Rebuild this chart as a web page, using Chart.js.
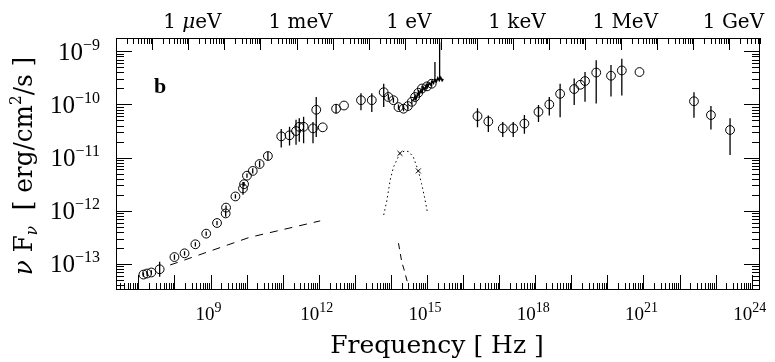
<!DOCTYPE html>
<html>
<head>
<meta charset="utf-8">
<script src="https://cdn.jsdelivr.net/npm/chart.js@4/dist/chart.umd.min.js"></script>
<style>
  html, body { margin: 0; padding: 0; background: #fff; }
  canvas { display: block; }
</style>
</head>
<body>
<canvas id="sed" width="775" height="362"></canvas>
<script>
"use strict";

// observed points: log10 frequency [Hz], log10 nuFnu [erg/cm2/s], error below / above (dex)
var obsLogNu   = [7.14, 7.24, 7.36, 7.59, 8.00, 8.28, 8.58, 8.88, 9.18, 9.42, 9.43, 9.69, 9.90, 9.93, 10.01, 10.17, 10.36, 10.59,
                  10.96, 11.19, 11.37, 11.46, 11.58, 11.84, 11.93, 12.11, 12.48, 12.70, 13.17, 13.47, 13.80,
                  13.93, 14.07, 14.21, 14.35, 14.47, 14.58, 14.67, 14.76, 14.86, 15.00, 15.13,
                  16.40, 16.70, 17.10, 17.39, 17.70, 18.09, 18.39, 18.69, 19.08, 19.25, 19.38, 19.69, 20.10, 20.40, 20.89,
                  22.40, 22.87, 23.40];
var obsLogFlux = [-13.20, -13.18, -13.16, -13.10, -12.87, -12.80, -12.63, -12.43, -12.23, -12.05, -11.94, -11.73, -11.58, -11.50, -11.34, -11.25, -11.12, -10.97,
                  -10.60, -10.58, -10.50, -10.42, -10.42, -10.45, -10.10, -10.43, -10.08, -10.02, -9.92, -9.92, -9.77,
                  -9.86, -9.92, -10.05, -10.08, -10.03, -9.95, -9.86, -9.78, -9.70, -9.66, -9.61,
                  -10.22, -10.32, -10.45, -10.45, -10.36, -10.14, -10.00, -9.80, -9.71, -9.63, -9.56, -9.40, -9.46, -9.36, -9.39,
                  -9.94, -10.20, -10.48];
var obsErrLo   = [0.04, 0.04, 0.04, 0.14, 0.05, 0.04, 0.04, 0.04, 0.04, 0.06, 0.04, 0.04, 0.12, 0.04, 0.04, 0.05, 0.06, 0.08,
                  0.21, 0.19, 0.26, 0.28, 0.31, 0.28, 0.51, 0, 0.09, 0, 0.19, 0.22, 0.28,
                  0.05, 0.05, 0.05, 0.05, 0.05, 0.05, 0.05, 0.05, 0.05, 0.05, 0.05,
                  0.21, 0.20, 0.16, 0.16, 0.19, 0.19, 0.21, 0.44, 0.30, 0, 0.39, 0.58, 0.39, 0.47, 0,
                  0.31, 0.27, 0.47];
var obsErrHi   = [0.04, 0.04, 0.04, 0.14, 0.05, 0.04, 0.04, 0.04, 0.04, 0.06, 0.04, 0.04, 0.12, 0.04, 0.04, 0.05, 0.06, 0.08,
                  0.14, 0.16, 0.21, 0.16, 0.19, 0.12, 0.24, 0, 0.09, 0, 0.13, 0.13, 0.16,
                  0.05, 0.05, 0.05, 0.05, 0.05, 0.05, 0.05, 0.05, 0.05, 0.05, 0.05,
                  0.15, 0.11, 0.12, 0.12, 0.16, 0.13, 0.14, 0.19, 0.20, 0, 0.17, 0.23, 0.20, 0.22, 0,
                  0.17, 0.17, 0.22];

// optical/UV spectrum (jagged line) and its spikes
var specLogNu   = [14.62, 14.66, 14.70, 14.74, 14.78, 14.82, 14.86, 14.90, 14.94, 14.98, 15.02, 15.06, 15.10, 15.14, 15.18, 15.22, 15.26, 15.30, 15.34, 15.38, 15.42, 15.45];
var specLogFlux = [-9.93, -9.86, -9.89, -9.80, -9.82, -9.74, -9.77, -9.68, -9.72, -9.63, -9.67, -9.60, -9.63, -9.56, -9.60, -9.52, -9.57, -9.50, -9.55, -9.49, -9.55, -9.52];
var spikeLogNu  = [15.22, 15.35];
var spikeLogLo  = [-9.50, -9.52];
var spikeLogHi  = [-9.20, -8.83];

// thermal bump (dotted) with two marked points
var thermLogNu   = [13.80, 13.89, 13.98, 14.07, 14.16, 14.25, 14.39, 14.50, 14.62, 14.76, 14.85, 14.93, 15.01];
var thermLogFlux = [-12.08, -11.80, -11.42, -11.18, -11.05, -10.92, -10.87, -10.89, -10.99, -11.25, -11.49, -11.74, -12.02];
var crossLogNu   = [14.25, 14.76];
var crossLogFlux = [-10.92, -11.25];

// dashed components
var synchLogNu   = [7.88, 10.08, 12.04];
var synchLogFlux = [-13.02, -12.50, -12.19];
var steepLogNu   = [14.21, 14.30, 14.37, 14.49];
var steepLogFlux = [-12.61, -12.96, -13.12, -13.43];

// axes
var xLogMin = 6.38, xLogMax = 24.23;
var yLogMin = -13.49, yLogMax = -8.75;
var xTickExp = [9, 12, 15, 18, 21, 24];
var yTickExp = [-9, -10, -11, -12, -13];
var energyLabels = ["\u03bceV", "meV", "eV", "keV", "MeV", "GeV"];
var energyValues = [1e-6, 1e-3, 1, 1e3, 1e6, 1e9];
var HZ_PER_EV = 2.418e14;

var SERIF = "'Liberation Serif', 'DejaVu Serif', serif";
var WIDE = "'DejaVu Serif', serif";

function p10(v) { return Math.pow(10, v); }
function pts(xs, ys) { return xs.map(function(x, i) { return { x: p10(x), y: p10(ys[i]) }; }); }

var barPts = [];
obsLogNu.forEach(function(n, i) {
  if (!(obsErrLo[i] || obsErrHi[i])) return;
  var x = p10(n);
  barPts.push({ x: x, y: p10(obsLogFlux[i] - obsErrLo[i]) }, { x: x, y: p10(obsLogFlux[i] + obsErrHi[i]) }, { x: x, y: null });
});
spikeLogNu.forEach(function(n, i) {
  var x = p10(n);
  barPts.push({ x: x, y: p10(spikeLogLo[i]) }, { x: x, y: p10(spikeLogHi[i]) }, { x: x, y: null });
});

function logTicks(min, max, unit) {
  var out = [];
  var lo = Math.floor(Math.log10(min / unit)) - 1, hi = Math.ceil(Math.log10(max / unit)) + 1;
  for (var d = lo; d <= hi; d++) {
    for (var m = 1; m < 10; m++) {
      var v = m * Math.pow(10, d) * unit;
      if (v >= min && v <= max) out.push({ v: v, major: m === 1 });
    }
  }
  return out;
}

// text runs [text, font, dy] placed centred ("center") or ending ("right") at x; sx squeezes along the text
function drawRuns(ctx, runs, x, y, align, sx) {
  sx = sx || 1;
  var w = 0;
  runs.forEach(function(r) { ctx.font = r[1]; w += ctx.measureText(r[0]).width; });
  ctx.save();
  ctx.translate(x, y);
  ctx.scale(sx, 1);
  var cx = align === "right" ? -w : -w / 2;
  ctx.textAlign = "left";
  runs.forEach(function(r) {
    ctx.font = r[1];
    ctx.fillText(r[0], cx, r[2] || 0);
    cx += ctx.measureText(r[0]).width;
  });
  ctx.restore();
}

var framePlugin = {
  id: "frame",
  afterDraw: function(chart) {
    var ctx = chart.ctx, a = chart.chartArea, xs = chart.scales.x, ys = chart.scales.y;
    ctx.save();
    ctx.strokeStyle = "#000";
    ctx.fillStyle = "#000";
    ctx.lineWidth = 1;
    ctx.strokeRect(a.left + 0.5, a.top + 0.5, a.right - a.left - 1, a.bottom - a.top - 1);

    ctx.beginPath();
    // bottom: frequency ticks
    logTicks(xs.min, xs.max, 1).forEach(function(t) {
      var px = Math.round(xs.getPixelForValue(t.v)) + 0.5;
      ctx.moveTo(px, a.bottom); ctx.lineTo(px, a.bottom - (t.major ? 15 : 7));
    });
    // top: energy ticks
    logTicks(xs.min, xs.max, HZ_PER_EV).forEach(function(t) {
      var px = Math.round(xs.getPixelForValue(t.v)) + 0.5;
      ctx.moveTo(px, a.top); ctx.lineTo(px, a.top + (t.major ? 12 : 6));
    });
    // left and right: flux ticks
    logTicks(ys.min, ys.max, 1).forEach(function(t) {
      var py = Math.round(ys.getPixelForValue(t.v)) + 0.5;
      var len = t.major ? 16 : 8;
      ctx.moveTo(a.left, py); ctx.lineTo(a.left + len, py);
      ctx.moveTo(a.right, py); ctx.lineTo(a.right - len, py);
    });
    ctx.stroke();

    ctx.textBaseline = "alphabetic";
    // bottom labels
    xTickExp.forEach(function(e) {
      var px = xs.getPixelForValue(p10(e));
      drawRuns(ctx, [["10", "19px " + SERIF], [String(e), "14px " + SERIF, -8]], px - 2, 320, "center");
    });
    // left labels
    yTickExp.forEach(function(e) {
      var py = ys.getPixelForValue(p10(e));
      drawRuns(ctx, [["10", "25px " + SERIF], ["\u2212" + Math.abs(e), "16px " + SERIF, -10]], 100, py + 8.5, "right");
    });
    // top energy labels
    energyLabels.forEach(function(lbl, i) {
      var px = xs.getPixelForValue(energyValues[i] * HZ_PER_EV);
      var runs = lbl.charAt(0) === "\u03bc"
        ? [["1 ", "21px " + WIDE], ["\u03bc", "italic 21px " + WIDE], [lbl.slice(1), "21px " + WIDE]]
        : [["1 " + lbl, "21px " + WIDE]];
      drawRuns(ctx, runs, px + 4, 28, "center", 0.95);
    });

    // axis titles
    drawRuns(ctx, [["Frequency [ Hz ]", "25px " + WIDE]], 437, 353, "center");
    ctx.save();
    ctx.translate(32, 166);
    ctx.rotate(-Math.PI / 2);
    drawRuns(ctx, [
      ["\u03bd", "italic 26px " + WIDE],
      [" F", "26px " + WIDE],
      ["\u03bd", "italic 16px " + WIDE, 5],
      ["  [ erg/cm", "26px " + WIDE],
      ["2", "16px " + WIDE, -11],
      ["/s ]", "26px " + WIDE]
    ], 0, 0, "center", 0.95);
    ctx.restore();

    // panel letter
    ctx.font = "bold 22px " + SERIF;
    ctx.fillText("b", 154, 93);
    ctx.restore();
  }
};

new Chart(document.getElementById("sed").getContext("2d"), {
  type: "scatter",
  data: {
    datasets: [
      { data: barPts, showLine: true, spanGaps: false, pointRadius: 0, borderColor: "#000", borderWidth: 1.3 },
      { data: pts(obsLogNu, obsLogFlux), pointStyle: "circle", pointRadius: 4.4, borderColor: "#000", backgroundColor: "rgba(0,0,0,0)", borderWidth: 1 },
      { data: pts(specLogNu, specLogFlux), showLine: true, pointRadius: 0, borderColor: "#000", borderWidth: 1.6 },
      { data: pts(thermLogNu, thermLogFlux), showLine: true, pointRadius: 0, borderColor: "#000", borderWidth: 1, borderDash: [1.5, 3] },
      { data: pts(crossLogNu, crossLogFlux), pointStyle: "crossRot", pointRadius: 3.5, borderColor: "#000", borderWidth: 1 },
      { data: pts(synchLogNu, synchLogFlux), showLine: true, pointRadius: 0, borderColor: "#000", borderWidth: 1, borderDash: [8, 7] },
      { data: pts(steepLogNu, steepLogFlux), showLine: true, pointRadius: 0, borderColor: "#000", borderWidth: 1, borderDash: [6, 5] }
    ]
  },
  options: {
    responsive: false,
    devicePixelRatio: 1,
    animation: false,
    layout: { padding: { left: 116, top: 38, right: 15, bottom: 72 } },
    plugins: { legend: { display: false }, tooltip: { enabled: false } },
    scales: {
      x: { type: "logarithmic", display: false, min: p10(xLogMin), max: p10(xLogMax) },
      y: { type: "logarithmic", display: false, min: p10(yLogMin), max: p10(yLogMax) }
    }
  },
  plugins: [framePlugin]
});
</script>
</body>
</html>
